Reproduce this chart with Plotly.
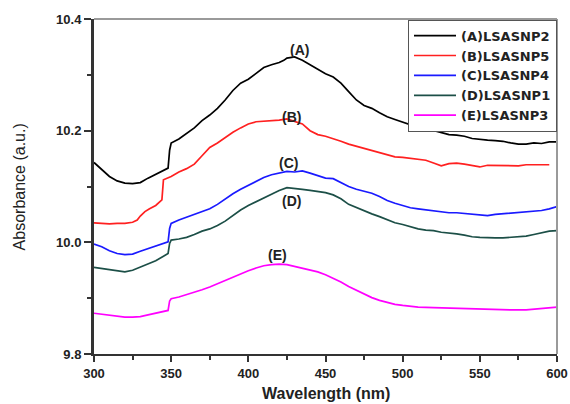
import plotly.graph_objects as go

# ---- data ----
wl_A = [300,305,310,315,320,325,330,335,340,345,348,349,350,355,360,365,370,375,380,385,390,395,400,405,410,415,420,423,425,430,435,440,445,450,455,460,465,470,475,480,485,490,495,500,505,510,515,520,525,530,535,540,545,550,555,560,565,570,575,580,585,590,595,600]
abs_A = [10.143,10.130,10.118,10.110,10.106,10.105,10.107,10.115,10.122,10.128,10.133,10.165,10.178,10.185,10.195,10.205,10.218,10.228,10.240,10.255,10.272,10.285,10.292,10.302,10.313,10.318,10.322,10.326,10.330,10.332,10.326,10.318,10.310,10.302,10.296,10.285,10.270,10.255,10.245,10.240,10.232,10.225,10.220,10.215,10.210,10.206,10.204,10.200,10.196,10.193,10.192,10.190,10.186,10.184,10.183,10.182,10.181,10.178,10.176,10.176,10.178,10.177,10.180,10.180]

wl_B = [300,305,310,315,320,325,328,330,333,336,340,344,345,350,355,360,365,370,375,380,385,390,395,400,405,410,415,420,425,430,435,440,445,450,455,460,465,470,475,480,485,490,495,500,505,510,515,520,525,530,535,540,545,550,555,560,565,570,575,580,585,590,595]
abs_B = [10.035,10.034,10.033,10.034,10.034,10.036,10.040,10.047,10.055,10.060,10.066,10.076,10.112,10.118,10.126,10.132,10.140,10.155,10.170,10.178,10.188,10.197,10.205,10.212,10.216,10.217,10.217,10.219,10.221,10.216,10.212,10.200,10.193,10.190,10.186,10.181,10.176,10.172,10.168,10.165,10.160,10.156,10.153,10.152,10.150,10.148,10.147,10.142,10.137,10.141,10.142,10.140,10.137,10.135,10.138,10.138,10.138,10.138,10.137,10.139,10.139,10.139,10.139]

wl_C = [300,305,310,315,320,325,330,335,340,345,348,349,350,355,360,365,370,375,380,385,390,395,400,405,410,415,420,425,430,435,440,445,450,455,460,465,470,475,480,485,490,495,500,505,510,515,520,525,530,535,540,545,550,555,560,565,570,575,580,585,590,595,600]
abs_C = [9.997,9.992,9.985,9.980,9.978,9.979,9.984,9.989,9.994,9.998,10.001,10.025,10.034,10.040,10.045,10.050,10.055,10.060,10.068,10.078,10.087,10.095,10.102,10.109,10.116,10.121,10.124,10.127,10.126,10.128,10.124,10.119,10.115,10.114,10.107,10.100,10.095,10.092,10.088,10.082,10.075,10.070,10.066,10.062,10.060,10.058,10.056,10.054,10.053,10.053,10.052,10.050,10.049,10.048,10.050,10.051,10.052,10.053,10.054,10.055,10.057,10.060,10.064]

wl_D = wl_C
abs_D = [9.955,9.953,9.950,9.948,9.947,9.950,9.956,9.962,9.967,9.975,9.980,9.998,10.004,10.006,10.009,10.014,10.020,10.024,10.030,10.038,10.048,10.058,10.066,10.073,10.080,10.087,10.093,10.098,10.097,10.095,10.093,10.091,10.089,10.085,10.078,10.068,10.062,10.056,10.051,10.046,10.040,10.035,10.032,10.028,10.024,10.022,10.021,10.018,10.017,10.015,10.013,10.010,10.009,10.008,10.008,10.008,10.009,10.010,10.011,10.014,10.017,10.020,10.021]

wl_E = [300,305,310,315,320,325,330,335,340,345,348,349,350,355,360,365,370,375,380,385,390,395,400,405,410,415,420,425,430,435,440,445,450,455,460,465,470,475,480,485,490,495,500,505,510,520,530,540,550,560,570,580,590,600]
abs_E = [9.873,9.871,9.869,9.867,9.866,9.866,9.867,9.870,9.873,9.876,9.878,9.895,9.899,9.902,9.906,9.910,9.915,9.920,9.926,9.932,9.938,9.944,9.949,9.954,9.958,9.960,9.961,9.960,9.957,9.954,9.951,9.947,9.942,9.936,9.929,9.921,9.914,9.907,9.901,9.896,9.892,9.889,9.887,9.885,9.884,9.883,9.882,9.881,9.881,9.880,9.879,9.879,9.881,9.884]

series_names = ["(A)LSASNP2", "(B)LSASNP5", "(C)LSASNP4", "(D)LSASNP1", "(E)LSASNP3"]
series_colors = ["#000000", "#ff2020", "#1a1aff", "#1c4f47", "#ff00ff"]

label_texts = ["(A)", "(B)", "(C)", "(D)", "(E)"]
label_x = [433, 428, 426, 428, 419]
label_y = [10.345, 10.225, 10.142, 10.074, 9.977]

x_tick_vals = [300, 350, 400, 450, 500, 550, 600]
y_tick_vals = [9.8, 10.0, 10.2, 10.4]
y_tick_text = ["9.8", "10.0", "10.2", "10.4"]

FONT = "Liberation Sans, Arial"

fig = go.Figure()
for wl, ab, name, col in zip([wl_A, wl_B, wl_C, wl_D, wl_E],
                             [abs_A, abs_B, abs_C, abs_D, abs_E],
                             series_names, series_colors):
    fig.add_trace(go.Scatter(x=wl, y=ab, mode="lines", name=name,
                             line=dict(color=col, width=1.7)))

for t, x, y in zip(label_texts, label_x, label_y):
    fig.add_annotation(x=x, y=y, text=t, showarrow=False,
                       font=dict(family=FONT, size=14, color="#222", weight="bold"))

# axis titles
fig.add_annotation(xref="paper", yref="paper", x=0.5, y=-0.118, text="Wavelength (nm)",
                   showarrow=False, xanchor="center", yanchor="middle",
                   font=dict(family=FONT, size=16, color="#222", weight="bold"))
fig.add_annotation(xref="paper", yref="paper", x=-0.16, y=0.5, text="Absorbance (a.u.)",
                   showarrow=False, xanchor="center", yanchor="middle", textangle=-90,
                   font=dict(family=FONT, size=16, color="#222"))

# top and right frame lines (grey)
fig.add_shape(type="line", xref="paper", yref="paper", x0=0, x1=1, y0=1, y1=1,
              line=dict(color="#9a9a9a", width=2))
fig.add_shape(type="line", xref="paper", yref="paper", x0=1, x1=1, y0=0, y1=1,
              line=dict(color="#9a9a9a", width=2))

fig.update_layout(
    width=570, height=404,
    margin=dict(l=94, r=13, t=19, b=50, autoexpand=False),
    paper_bgcolor="white", plot_bgcolor="white",
    font=dict(family=FONT, color="#222"),
    showlegend=True,
    legend=dict(x=1, y=0.998, xanchor="right", yanchor="top",
                bgcolor="white", bordercolor="#555", borderwidth=1,
                font=dict(family="DejaVu Sans", size=13, weight="bold", color="#222"),
                tracegroupgap=0, itemwidth=42),
    xaxis=dict(range=[300, 600], tickvals=x_tick_vals, automargin=False,
               showgrid=False, zeroline=False,
               showline=True, linecolor="#333", linewidth=2,
               ticks="outside", ticklen=6, tickwidth=1.5, tickcolor="#333",
               minor=dict(tickvals=[325, 375, 425, 475, 525, 575], ticks="outside", ticklen=4, tickcolor="#333"),
               tickfont=dict(size=13, weight="bold")),
    yaxis=dict(range=[9.8, 10.4], tickvals=y_tick_vals, ticktext=y_tick_text, automargin=False,
               showgrid=False, zeroline=False,
               showline=True, linecolor="#333", linewidth=3,
               ticks="outside", ticklen=7, tickwidth=1.5, tickcolor="#333",
               minor=dict(tickvals=[9.9, 10.1, 10.3], ticks="outside", ticklen=4, tickcolor="#333"),
               tickfont=dict(size=13, weight="bold")),
)

fig.write_html("out.html", config={"displayModeBar": False},
               post_script="document.body.style.margin='0';document.body.style.overflow='hidden';")
